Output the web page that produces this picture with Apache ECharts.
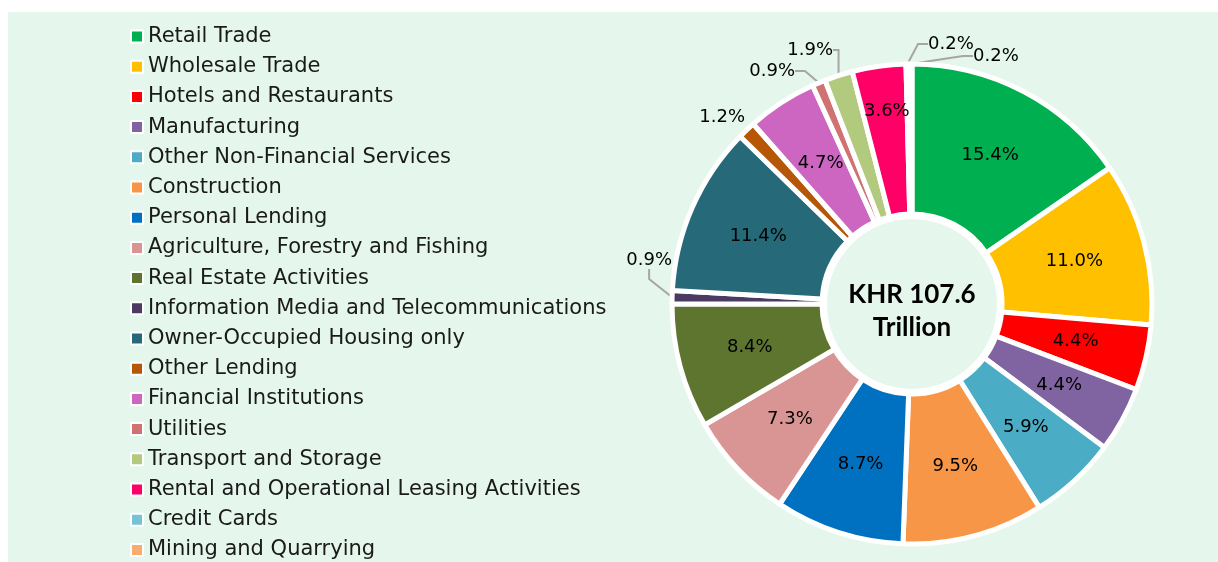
<!doctype html>
<html>
<head>
<meta charset="UTF-8">
<title>Loans by sector</title>
<script src="https://cdn.jsdelivr.net/npm/echarts@6/dist/echarts.min.js"></script>
<style>
  html, body { margin: 0; padding: 0; background: #ffffff; }
  #chart { width: 1218px; height: 562px; }
</style>
</head>
<body>
<div id="chart"></div>
<script>
// sector names, share of total (%) and slice colours
var sectors = ['Retail Trade', 'Wholesale Trade', 'Hotels and Restaurants', 'Manufacturing',
  'Other Non-Financial Services', 'Construction', 'Personal Lending', 'Agriculture, Forestry and Fishing',
  'Real Estate Activities', 'Information Media and Telecommunications', 'Owner-Occupied Housing only',
  'Other Lending', 'Financial Institutions', 'Utilities', 'Transport and Storage',
  'Rental and Operational Leasing Activities', 'Credit Cards', 'Mining and Quarrying'];
var shares = [15.4, 11.0, 4.4, 4.4, 5.9, 9.5, 8.7, 7.3, 8.4, 0.9, 11.4, 1.2, 4.7, 0.9, 1.9, 3.6, 0.2, 0.2];
var colors = ['#00B050', '#FFC000', '#FF0000', '#8064A2', '#4BACC6', '#F79646', '#0070C0', '#D99594',
  '#5E7530', '#4B3A62', '#266A7A', '#B65708', '#CC66C0', '#D07272', '#B2CA7D', '#FF0066', '#75C3D6', '#FAAB6E'];
var centerText = 'KHR 107.6\nTrillion';

// small slices get their labels outside, placed like the original
var outsideLabels = {
  9: [672, 260, 'right'],
  11: [745, 117, 'right'],
  13: [795, 71, 'right'],
  14: [833, 50, 'right'],
  16: [928, 44, 'left'],
  17: [973, 56, 'left']
};

var font = 'DejaVu Sans';

var data = [];
for (var i = 0; i < sectors.length; i++) {
  var item = { name: sectors[i], value: shares[i], itemStyle: { color: colors[i] } };
  if (outsideLabels[i]) {
    item.label = { position: 'outside' };
    item.labelLine = { show: i != 11 };
  } else {
    item.label = { position: 'inside' };
    item.labelLine = { show: false };
  }
  data.push(item);
}
// the 3.6% label sits further out in the original
data[15].label.offset = [-2, -26];

var chart = echarts.init(document.getElementById('chart'));
chart.setOption({
  backgroundColor: '#ffffff',
  animation: false,
  graphic: [{
    type: 'rect', z: -10, silent: true,
    shape: { x: 8, y: 12, width: 1210, height: 550 },
    style: { fill: '#E5F6EC' }
  }, {
    type: 'text', z: 100, silent: true,
    x: 912, y: 311,
    style: {
      text: centerText, align: 'center', verticalAlign: 'middle',
      font: 'bold 26px Lato', lineHeight: 33, fill: '#000'
    }
  }],
  legend: {
    orient: 'vertical',
    left: 130, top: 26,
    height: 536,
    padding: 0,
    itemWidth: 12, itemHeight: 12, itemGap: 9.2,
    icon: 'rect',
    data: sectors,
    textStyle: { fontFamily: font, fontSize: 21, lineHeight: 21, color: '#1a1a1a' }
  },
  series: [{
    type: 'pie',
    center: [912, 304],
    radius: [90, 240],
    startAngle: 90,
    clockwise: true,
    avoidLabelOverlap: false,
    itemStyle: { borderColor: '#ffffff', borderWidth: 5 },
    label: {
      formatter: function (p) { return p.value.toFixed(1) + '%'; },
      fontFamily: font, fontSize: 18, color: '#000'
    },
    labelLine: { length: 10, length2: 10, lineStyle: { color: '#A6A6A6', width: 2 } },
    labelLayout: function (params) {
      var p = outsideLabels[params.dataIndex];
      if (!p) return {};
      return { x: p[0], y: p[1], align: p[2], verticalAlign: 'middle' };
    },
    data: data
  }, {
    type: 'pie',
    center: [912, 304],
    radius: [85, 90],
    silent: true,
    label: { show: false },
    labelLine: { show: false },
    itemStyle: { color: '#ffffff' },
    data: [{ value: 1, name: '' }]
  }]
});
</script>
</body>
</html>
